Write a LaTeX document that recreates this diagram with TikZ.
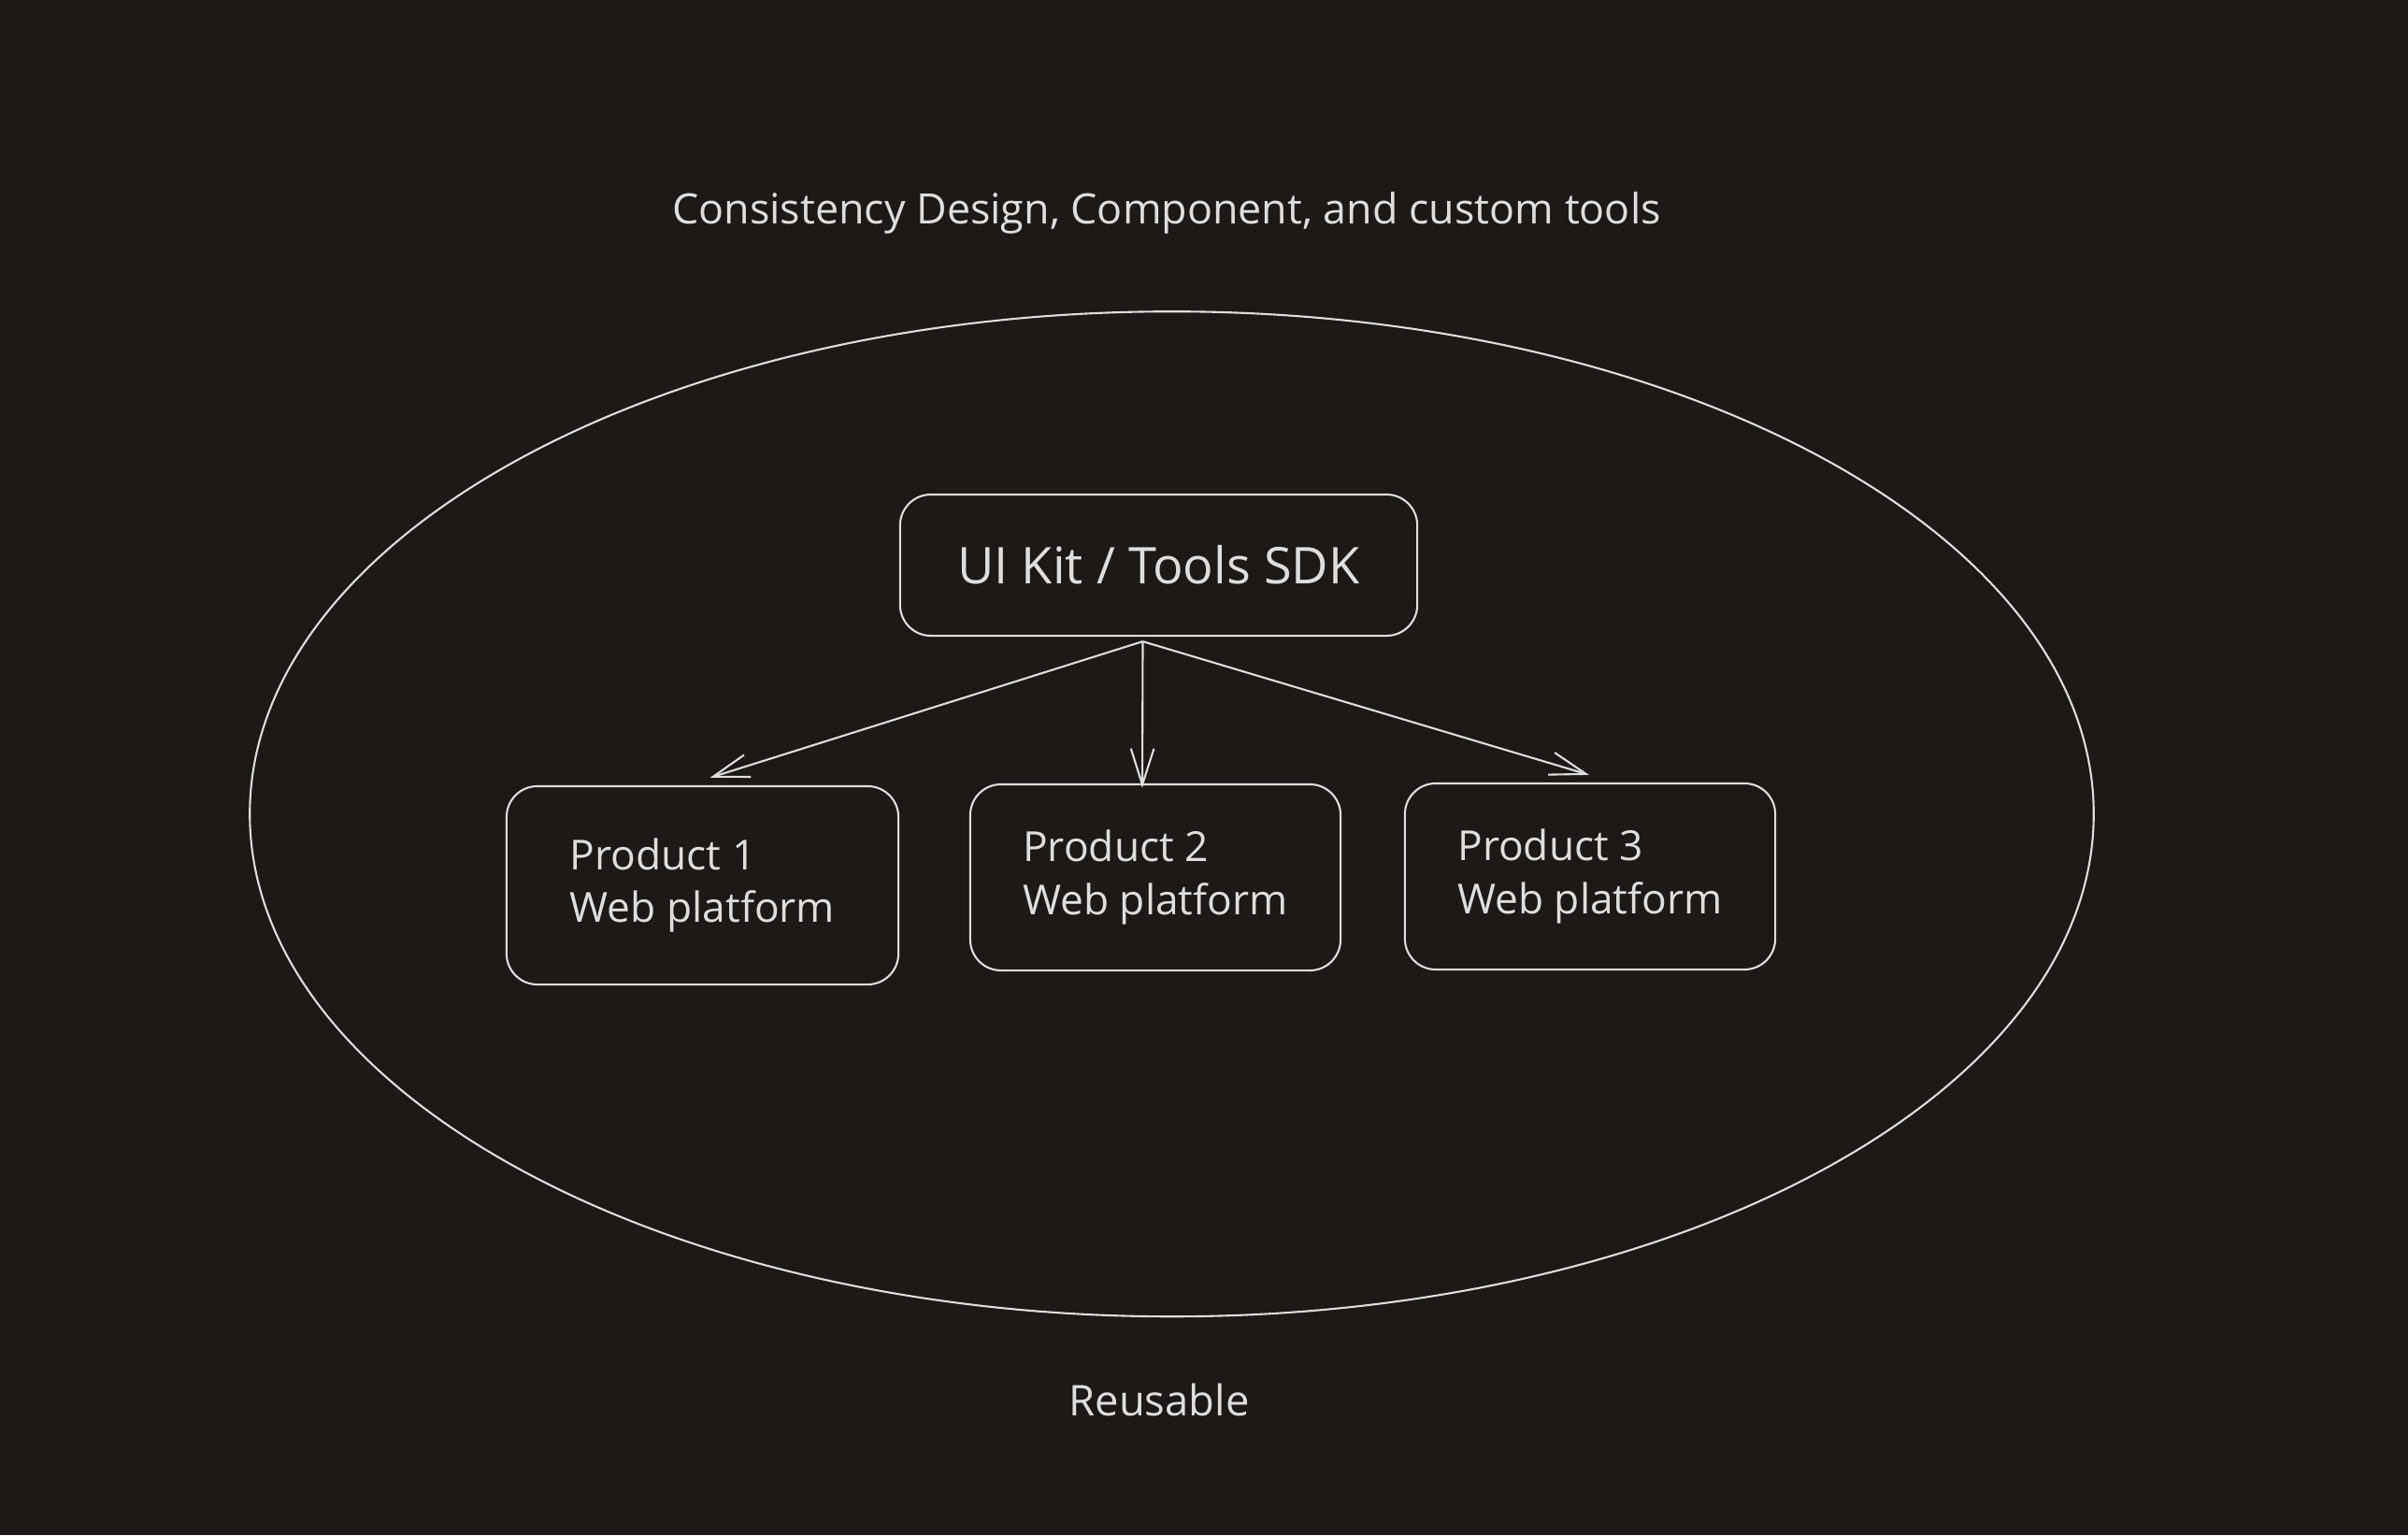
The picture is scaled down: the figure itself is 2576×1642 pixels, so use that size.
\documentclass[tikz,border=0pt]{standalone}
\usepackage{fontspec}
\setmainfont{Open Sans}
\usetikzlibrary{arrows.meta}
\definecolor{bgc}{RGB}{28,25,23}
\definecolor{ink}{RGB}{222,222,222}
\begin{document}
\begin{tikzpicture}[x=0.01cm,y=-0.01cm,
  line/.style={draw=ink,line width=0.6pt},
  boxnode/.style={line, rounded corners=0.33cm, inner sep=0pt, text=ink},
  lbl/.style={text=ink, inner sep=0pt},
  conn/.style={line, -{Straight Barb[length=11pt,width=7pt,line width=0.6pt]}}]
\fill[bgc] (0,0) rectangle (2576,1642);
\useasboundingbox (0,0) rectangle (2576,1642);
\node[lbl, font=\fontsize{12.75}{15}\selectfont] (title) at (1248,228) {Consistency Design, Component, and custom tools};
\draw[line] (1253.5,870.7) ellipse [x radius=9.857cm, y radius=5.372cm];
\node[boxnode, minimum width=5.53cm, minimum height=1.51cm, font=\fontsize{15.4}{18}\selectfont] (ui) at (1239.5,604.5) {UI Kit / Tools SDK};
\node[boxnode, minimum width=4.19cm, minimum height=2.12cm, align=left, font=\fontsize{12.6}{16}\selectfont] (p1) at (751.5,947) {Product 1\\Web platform};
\node[boxnode, minimum width=3.96cm, minimum height=1.99cm, align=left, font=\fontsize{12.6}{16}\selectfont] (p2) at (1236,938.5) {Product 2\\Web platform};
\node[boxnode, minimum width=3.96cm, minimum height=1.99cm, align=left, font=\fontsize{12.6}{16}\selectfont] (p3) at (1701,937.5) {Product 3\\Web platform};
\node[lbl, font=\fontsize{12.9}{15}\selectfont] (reuse) at (1240,1497) {Reusable};
\coordinate (src) at ([xshift=-0.17cm,yshift=-0.05cm]ui.south);
\draw[conn] (src) -- ([xshift=0.08cm,yshift=0.08cm]p1.north);
\draw[conn] (src) -- ([xshift=-0.14cm,yshift=-0.05cm]p2.north);
\draw[conn] (src) -- ([xshift=-0.01cm,yshift=0.08cm]p3.north);
\end{tikzpicture}
\end{document}
